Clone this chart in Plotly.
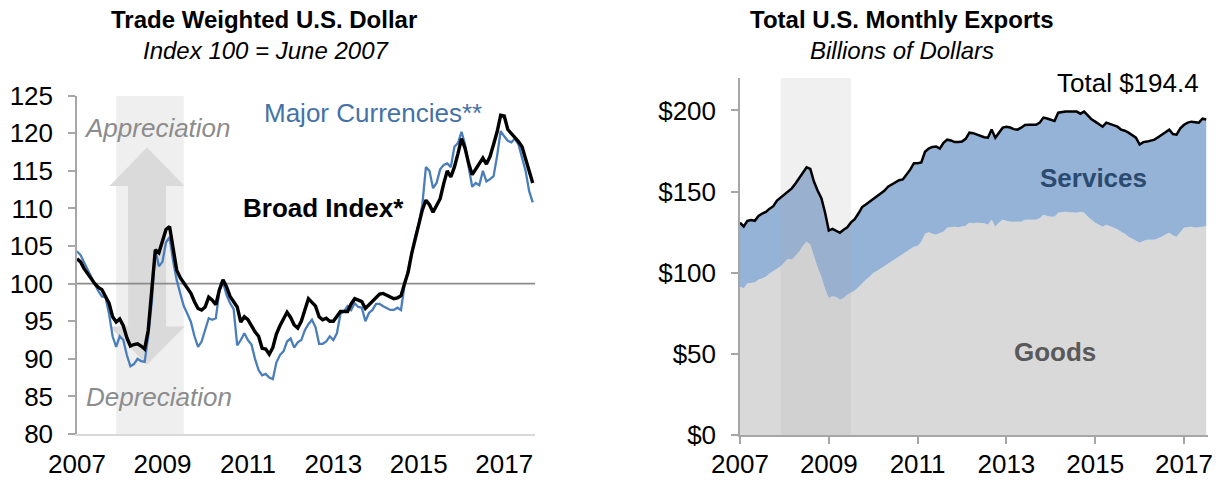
import plotly.graph_objects as go

W, H = 1220, 480
FONT = "Arial, 'Liberation Sans', sans-serif"

# ---------------- data ----------------
start_year = 2007
left_ticks = [2007, 2009, 2011, 2013, 2015, 2017]
left_yticks = [80, 85, 90, 95, 100, 105, 110, 115, 120, 125]
right_yticks = [0, 50, 100, 150, 200]
right_yticktext = ["$0", "$50", "$100", "$150", "$200"]
recession = [2007 + 11 / 12, 2009.5]

# Trade weighted dollar, monthly Jan 2007 - Sep 2017 (Index 100 = June 2007)
broad = [103.3, 102.9, 102.0, 101.3, 100.7, 100.0, 99.5, 99.2, 98.3, 97.4, 95.6, 94.9,
         95.3, 94.4, 92.8, 91.7, 91.9, 92.0, 91.7, 91.3, 93.8, 99.0, 104.5, 104.1,
         105.5, 107.2, 107.6, 104.5, 101.8, 100.8, 100.1, 99.4, 98.7, 97.6, 96.7, 96.5,
         96.9, 98.2, 97.8, 97.2, 99.2, 100.5, 99.6, 98.3, 97.6, 96.9, 94.9, 95.6,
         95.2, 94.3, 93.6, 93.0, 91.4, 91.3, 90.6, 91.5, 93.3, 94.4, 95.2, 96.2,
         95.5, 94.5, 94.1, 95.0, 96.5, 98.0, 97.5, 97.0, 95.6, 95.2, 95.4, 95.0,
         95.0, 95.6, 96.3, 96.3, 96.3, 97.3, 98.0, 97.8, 97.6, 96.7, 97.2, 97.6,
         98.1, 98.6, 98.7, 98.5, 98.2, 98.0, 98.1, 98.4, 100.0, 101.5, 104.0, 106.0,
         108.2, 109.8, 111.1, 110.5, 109.5, 110.3, 111.3, 113.3, 115.0, 114.2, 115.5, 117.3,
         119.3, 118.0, 116.0, 114.5, 115.3, 116.0, 116.7, 115.9, 116.9, 118.5, 120.2, 122.4,
         122.3, 120.5, 120.0, 119.4, 118.9, 118.2, 116.5, 114.8, 113.4]
major = [104.3, 103.8, 102.8, 101.8, 101.0, 100.0, 99.0, 98.3, 98.2, 96.0, 93.0, 91.6,
         93.0, 92.5, 90.5, 89.0, 89.3, 90.0, 89.7, 89.6, 93.0, 97.5, 104.5, 102.3,
         102.9, 105.5, 106.2, 103.0, 100.5, 98.7, 97.0, 96.0, 94.9, 93.0, 91.6, 92.3,
         93.8, 95.4, 95.2, 95.4, 99.0, 100.2, 98.5, 97.4, 96.6, 91.8, 92.5, 93.4,
         92.5, 91.9, 90.0, 88.5, 87.8, 88.0, 87.5, 87.3, 89.5, 90.5, 91.0, 92.3,
         92.7, 91.5, 92.2, 92.5, 93.8, 94.6, 95.2, 94.2, 92.0, 92.0, 92.3, 93.0,
         92.5, 93.4, 96.0, 96.3, 97.0, 96.5, 97.4, 96.9, 96.8, 95.0, 96.1, 96.5,
         97.3, 97.3, 97.0, 96.8, 96.5, 96.5, 96.8, 96.5, 99.8, 101.8, 104.0, 106.3,
         108.0, 110.5, 115.5, 115.0, 112.7, 113.4, 115.2, 115.8, 116.0, 115.5, 118.2, 118.7,
         120.2, 118.5, 115.5, 112.9, 113.4, 113.1, 115.0, 113.6, 113.9, 114.3, 117.0, 120.3,
         119.6, 119.0, 118.8, 119.3, 118.5, 116.8, 115.0, 112.3, 110.8]

# U.S. monthly exports, Jan 2007 - Jul 2017, billions of dollars
goods = [91.3, 90.3, 93.5, 93.8, 94.0, 95.6, 96.5, 97.5, 99.5, 100.8, 102.5, 104.0,
         106.5, 108.6, 108.0, 110.5, 112.9, 116.5, 119.1, 117.2, 110.0, 103.0, 97.5, 90.0,
         84.5, 85.5, 85.1, 83.3, 84.5, 86.5, 87.6, 89.0, 91.0, 93.5, 95.6, 97.5,
         99.9, 101.0, 102.5, 103.6, 105.0, 106.5, 108.0, 110.0, 111.5, 112.9, 114.5, 116.0,
         116.5, 119.1, 124.0, 125.0, 124.0, 123.4, 124.5, 125.2, 127.7, 128.0, 128.3, 128.0,
         128.3, 129.0, 130.8, 130.5, 130.8, 130.8, 130.5, 129.5, 132.6, 128.3, 131.0, 132.6,
         132.0, 131.4, 131.4, 131.4, 131.4, 132.6, 132.6, 132.6, 132.6, 133.5, 135.7, 135.0,
         134.5, 134.5, 136.9, 137.3, 137.6, 137.2, 136.9, 137.0, 137.6, 137.0, 134.5, 132.5,
         130.8, 129.5, 128.3, 129.5, 128.5, 127.7, 126.8, 125.2, 124.0, 122.1, 121.0, 120.0,
         118.4, 119.5, 120.3, 120.3, 120.3, 121.2, 122.1, 123.5, 124.6, 123.0, 122.1, 125.0,
         127.7, 128.0, 128.3, 127.7, 127.8, 128.3, 128.6]
total = [130.8, 128.5, 132.0, 132.5, 132.0, 135.0, 136.5, 137.5, 139.5, 141.0, 144.5, 146.5,
         148.5, 150.0, 152.0, 155.0, 158.5, 162.0, 165.0, 164.0, 156.0, 150.5, 146.0, 137.0,
         126.0, 127.0, 126.0, 124.6, 126.5, 128.0, 131.0, 133.0, 136.5, 140.5, 142.0, 143.8,
         145.5, 147.0, 149.0, 150.5, 153.0, 154.5, 156.0, 157.0, 157.5, 160.5, 163.5, 167.5,
         167.5, 168.0, 174.5, 176.5, 177.5, 177.8, 176.5, 180.0, 182.0, 181.5, 180.5, 180.5,
         180.8, 182.5, 186.3, 186.0, 185.1, 184.5, 183.5, 183.2, 188.2, 183.2, 186.5, 189.4,
         190.0, 189.5, 188.5, 188.2, 189.4, 191.0, 191.2, 191.2, 191.2, 192.5, 195.6, 195.0,
         194.3, 193.5, 198.6, 199.0, 199.3, 199.3, 199.3, 199.3, 198.0, 199.3, 197.0, 194.5,
         193.1, 191.5, 190.0, 192.5, 191.5, 190.5, 190.0, 188.2, 187.5, 186.3, 184.5, 183.2,
         179.0, 180.5, 180.8, 181.5, 182.0, 183.5, 185.1, 186.5, 188.2, 185.5, 185.1, 189.0,
         191.2, 192.5, 193.1, 192.8, 192.5, 194.9, 194.4]

x_left = [start_year + i / 12 for i in range(len(broad))]
x_right = [start_year + i / 12 for i in range(len(total))]


def px(x):
    return x / W


def py(y):
    return 1 - y / H


fig = go.Figure()

# ---------- left panel ----------
fig.add_trace(go.Scatter(x=x_left, y=major, mode="lines", line=dict(color="#4A7EBB", width=2.3),
                         xaxis="x", yaxis="y", hoverinfo="skip", showlegend=False))
fig.add_trace(go.Scatter(x=x_left, y=broad, mode="lines", line=dict(color="#000000", width=3.4),
                         xaxis="x", yaxis="y", hoverinfo="skip", showlegend=False))

# ---------- right panel ----------
fig.add_trace(go.Scatter(x=x_right, y=goods, mode="lines", line=dict(width=0),
                         fill="tozeroy", fillcolor="#D9D9D9",
                         xaxis="x2", yaxis="y2", hoverinfo="skip", showlegend=False))
fig.add_trace(go.Scatter(x=x_right, y=total, mode="lines", line=dict(width=0),
                         fill="tonexty", fillcolor="#95B3D7",
                         xaxis="x2", yaxis="y2", hoverinfo="skip", showlegend=False))
fig.add_trace(go.Scatter(x=[recession[0], recession[0], recession[1], recession[1]],
                         y=[0, 220, 220, 0], mode="lines", line=dict(width=0),
                         fill="toself", fillcolor="rgba(170,170,170,0.18)",
                         xaxis="x2", yaxis="y2", hoverinfo="skip", showlegend=False))
fig.add_trace(go.Scatter(x=x_right, y=total, mode="lines", line=dict(color="#000000", width=2.5),
                         xaxis="x2", yaxis="y2", hoverinfo="skip", showlegend=False))

# ---------- shapes (left) ----------
cx = 2008.64
hw_head, hw_shaft = 0.88, 0.445
top_apex, top_base, bot_base, bot_apex = 118.1, 113.0, 94.3, 89.2
arrow_path = (
    f"M {cx},{top_apex} L {cx + hw_head},{top_base} L {cx + hw_shaft},{top_base} "
    f"L {cx + hw_shaft},{bot_base} L {cx + hw_head},{bot_base} L {cx},{bot_apex} "
    f"L {cx - hw_head},{bot_base} L {cx - hw_shaft},{bot_base} L {cx - hw_shaft},{top_base} "
    f"L {cx - hw_head},{top_base} Z"
)
shapes = [
    dict(type="rect", xref="x", yref="y", x0=recession[0], x1=recession[1], y0=80, y1=125,
         fillcolor="#EFEFEF", line=dict(width=0), layer="below"),
    dict(type="path", xref="x", yref="y", path=arrow_path, fillcolor="#DADADA",
         line=dict(width=0), layer="below"),
    dict(type="line", xref="x", yref="y", x0=2007, x1=2017.72, y0=100, y1=100,
         line=dict(color="#8C8C8C", width=1.6), layer="below"),
]

axis_font = dict(family=FONT, size=26, color="#000000")

annotations = [
    dict(text="<b>Trade Weighted U.S. Dollar</b>", x=px(264), y=py(20), font=dict(family=FONT, size=24, color="#000")),
    dict(text="<i>Index 100 = June 2007</i>", x=px(266), y=py(51), font=dict(family=FONT, size=24, color="#000")),
    dict(text="<b>Total U.S. Monthly Exports</b>", x=px(902), y=py(20), font=dict(family=FONT, size=24, color="#000")),
    dict(text="<i>Billions of Dollars</i>", x=px(902), y=py(51), font=dict(family=FONT, size=24, color="#000")),
    dict(text="<i>Appreciation</i>", x=px(157), y=py(128), font=dict(family=FONT, size=26, color="#8C8C8C")),
    dict(text="<i>Depreciation</i>", x=px(159), y=py(397), font=dict(family=FONT, size=26, color="#8C8C8C")),
    dict(text="Major Currencies**", x=px(373), y=py(113), font=dict(family=FONT, size=26, color="#4472A8")),
    dict(text="<b>Broad Index*</b>", x=px(323), y=py(208), font=dict(family=FONT, size=26, color="#000")),
    dict(text="Total $194.4", x=px(1128), y=py(83), font=dict(family=FONT, size=26, color="#000")),
    dict(text="<b>Services</b>", x=px(1093), y=py(178), font=dict(family=FONT, size=26, color="#2A4A70")),
    dict(text="<b>Goods</b>", x=px(1055), y=py(352), font=dict(family=FONT, size=26, color="#595959")),
]
for a in annotations:
    a.update(xref="paper", yref="paper", xanchor="center", yanchor="middle", showarrow=False)

fig.update_layout(
    template="none",
    width=W, height=H,
    margin=dict(l=0, r=0, t=0, b=0, pad=0),
    paper_bgcolor="white", plot_bgcolor="white",
    showlegend=False,
    shapes=shapes,
    annotations=annotations,
    xaxis=dict(domain=[px(77), px(535)], range=[2007, 2017.72], tickvals=left_ticks,
               ticktext=[str(t) for t in left_ticks], showgrid=False, zeroline=False,
               showline=True, linecolor="#D9D9D9", linewidth=2, ticks="",
               tickfont=axis_font, ticklabelstandoff=6, fixedrange=True, automargin=False),
    yaxis=dict(domain=[py(434), py(95.7)], range=[80, 125], tickvals=left_yticks,
               showgrid=False, zeroline=False, showline=True, linecolor="#A6A6A6", linewidth=1.5,
               ticks="outside", ticklen=7, tickcolor="#A6A6A6", tickwidth=1.5,
               tickfont=axis_font, ticklabelstandoff=10, fixedrange=True, automargin=False),
    xaxis2=dict(domain=[px(740), px(1208)], range=[2007, 2017.54], tickvals=left_ticks,
                ticktext=[str(t) for t in left_ticks], showgrid=False, zeroline=False,
                showline=True, linecolor="#A6A6A6", linewidth=1.5, ticks="outside", ticklen=7,
                tickcolor="#A6A6A6", tickwidth=1.5, tickfont=axis_font, ticklabelstandoff=-2,
                anchor="y2", fixedrange=True, automargin=False),
    yaxis2=dict(domain=[py(435), py(78)], range=[0, 220], tickvals=right_yticks,
                ticktext=right_yticktext, showgrid=False, zeroline=False, showline=True,
                linecolor="#A6A6A6", linewidth=1.5, ticks="outside", ticklen=7,
                tickcolor="#A6A6A6", tickwidth=1.5, tickfont=axis_font, ticklabelstandoff=10,
                anchor="x2", fixedrange=True, automargin=False),
)

fig.write_html(
    "out.html",
    config={"displayModeBar": False},
    post_script="document.body.style.margin='0';document.body.style.padding='0';document.documentElement.style.margin='0';",
)
